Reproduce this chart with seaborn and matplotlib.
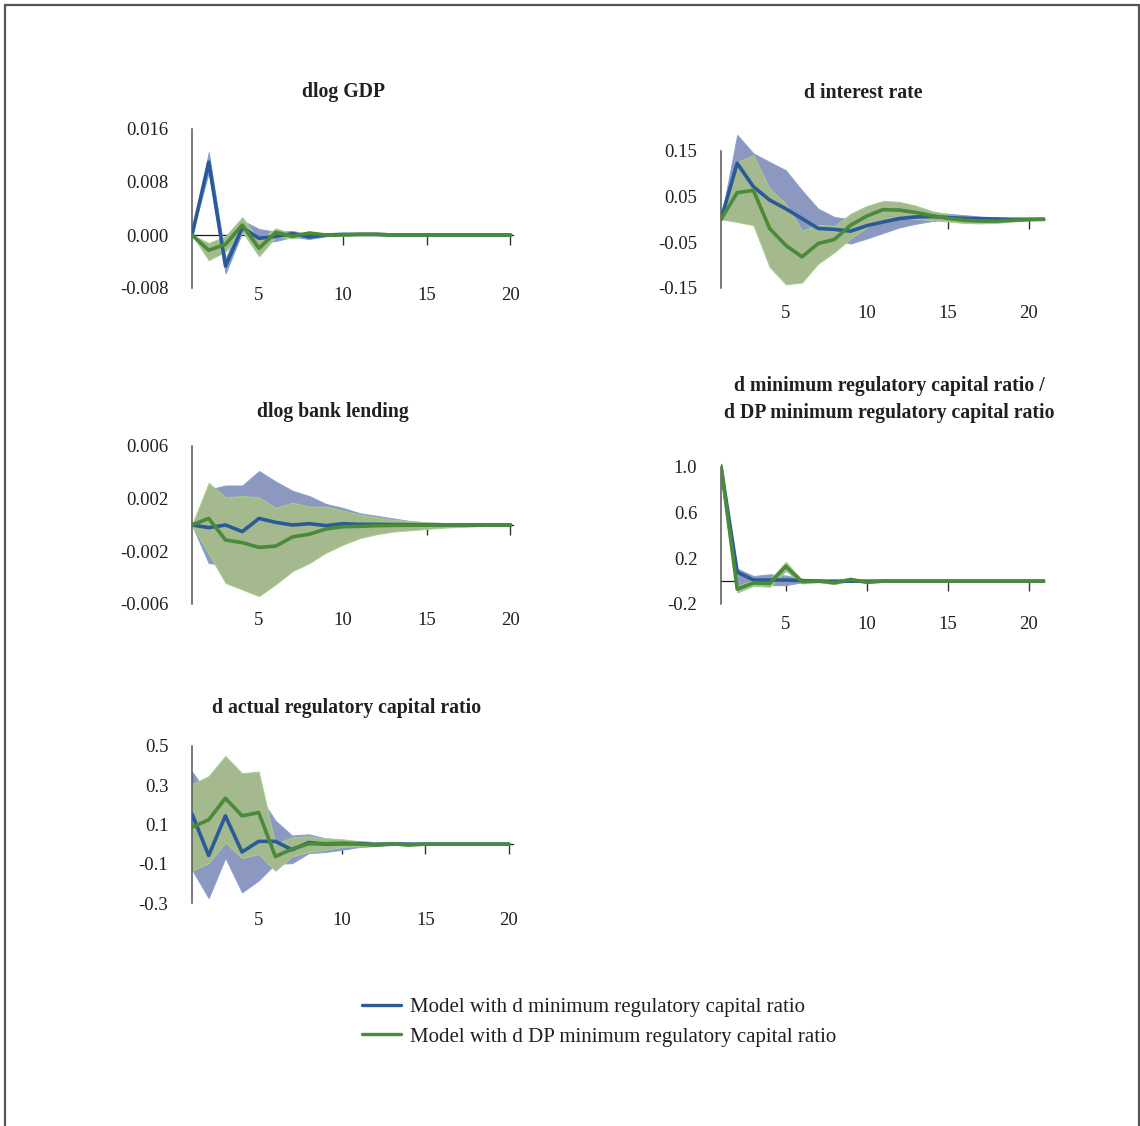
import matplotlib
matplotlib.use("Agg")
import matplotlib.pyplot as plt
from matplotlib.lines import Line2D
import numpy as np
import seaborn as sns

# horizons
t_left = np.arange(1, 21)
t_right = np.arange(1, 22)

# dlog GDP
gdp_blue = [0, 0.011, -0.0047, 0.0011, -0.0005, -0.0002, 0.0002, -0.0003, 0, 0.0001,
            0.0001, 0.0001, 0, 0, 0, 0, 0, 0, 0, 0]
gdp_blue_lo = [0, 0.0095, -0.0058, 0.0004, -0.0012, -0.0009, -0.0003, -0.0006, -0.0002, 0,
               0, 0, -0.0001, 0, 0, 0, 0, 0, 0, 0]
gdp_blue_hi = [0, 0.0125, -0.0035, 0.0022, 0.0009, 0.0005, 0.0006, 0.0001, 0.0002, 0.0002,
               0.0002, 0.0002, 0.0001, 0.0001, 0, 0, 0, 0, 0, 0]
gdp_green = [0, -0.0023, -0.0014, 0.0015, -0.002, 0.0004, -0.0002, 0.0003, 0, 0,
             0.0001, 0.0001, 0, 0, 0, 0, 0, 0, 0, 0]
gdp_green_lo = [0, -0.0038, -0.0025, 0.0005, -0.0032, -0.0003, -0.0005, 0, -0.0001, -0.0001,
                0, 0, -0.0001, 0, 0, 0, 0, 0, 0, 0]
gdp_green_hi = [0, -0.0012, -0.0002, 0.0027, -0.0008, 0.001, 0.0002, 0.0005, 0.0001, 0.0001,
                0.0002, 0.0002, 0.0001, 0, 0, 0, 0, 0, 0, 0]

# d interest rate
ir_blue = [0, 0.122, 0.071, 0.042, 0.023, 0.0015, -0.020, -0.022, -0.026, -0.014, -0.006,
           0.0015, 0.005, 0.006, 0.004, 0.002, 0.001, 0.0005, 0, 0, 0]
ir_blue_lo = [0, 0.04, 0.01, 0.0, -0.01, -0.028, -0.03, -0.045, -0.053, -0.042, -0.03,
              -0.018, -0.01, -0.004, -0.001, -0.001, -0.001, -0.001, 0, 0, 0]
ir_blue_hi = [0, 0.184, 0.144, 0.125, 0.107, 0.063, 0.023, 0.005, 0.0, 0.008, 0.015,
              0.018, 0.017, 0.016, 0.012, 0.009, 0.006, 0.004, 0.002, 0.001, 0]
ir_green = [0, 0.058, 0.063, -0.020, -0.057, -0.082, -0.053, -0.044, -0.013, 0.007, 0.021,
            0.020, 0.015, 0.008, 0.002, -0.002, -0.004, -0.004, -0.002, -0.001, 0]
ir_green_lo = [0, -0.006, -0.013, -0.104, -0.142, -0.138, -0.097, -0.072, -0.042, -0.017, 0.002,
               0.003, 0.001, -0.002, -0.005, -0.008, -0.009, -0.008, -0.005, -0.002, 0]
ir_green_hi = [0, 0.125, 0.14, 0.067, 0.034, -0.025, -0.012, -0.015, 0.012, 0.029, 0.040,
               0.038, 0.030, 0.018, 0.010, 0.005, 0.002, 0.001, 0, 0, 0]

# dlog bank lending
bl_blue = [0, -0.0002, 0, -0.0005, 0.0005, 0.0002, 0, 0.0001, -0.00005, 0.0001,
           0.00005, 0.00005, 0.00003, 0.00002, 0.00001, 0, 0, 0, 0, 0]
bl_blue_lo = [0, -0.0029, -0.003, -0.0027, -0.0024, -0.002, -0.0016, -0.0013, -0.001, -0.0008,
              -0.0006, -0.0005, -0.0004, -0.0003, -0.0002, -0.00015, -0.0001, -0.00005, -0.00003, 0]
bl_blue_hi = [0, 0.0027, 0.003, 0.003, 0.0041, 0.0033, 0.0026, 0.0022, 0.0016, 0.0013,
              0.0009, 0.0007, 0.0005, 0.0003, 0.0002, 0.00015, 0.0001, 0.00005, 0.00003, 0]
bl_green = [0, 0.0005, -0.00114, -0.00134, -0.0017, -0.0016, -0.0009, -0.0007, -0.0003, -0.00013,
            -0.0001, -0.00005, -0.00003, -0.00002, -0.00001, 0, 0, 0, 0, 0]
bl_green_lo = [0, -0.0022, -0.0044, -0.0049, -0.0054, -0.0045, -0.0035, -0.0029, -0.0021, -0.0015,
               -0.001, -0.0007, -0.0005, -0.0004, -0.0003, -0.0002, -0.00015, -0.0001, -0.00005, 0]
bl_green_hi = [0, 0.0032, 0.0021, 0.0022, 0.0021, 0.0013, 0.0017, 0.0014, 0.0014, 0.0011,
               0.0008, 0.0006, 0.0004, 0.0003, 0.0002, 0.00015, 0.0001, 0.00005, 0.00003, 0]

# d minimum regulatory capital ratio
mr_blue = [1.0, 0.08, 0.01, 0.01, 0.01, 0.005, 0, 0, 0, 0, 0,
           0, 0, 0, 0, 0, 0, 0, 0, 0, 0]
mr_blue_lo = [0.99, -0.05, -0.02, -0.035, -0.035, -0.01, -0.005, -0.003, -0.002, -0.001, 0,
              0, 0, 0, 0, 0, 0, 0, 0, 0, 0]
mr_blue_hi = [1.01, 0.11, 0.045, 0.06, 0.05, 0.02, 0.01, 0.005, 0.003, 0.002, 0,
              0, 0, 0, 0, 0, 0, 0, 0, 0, 0]
mr_green = [1.01, -0.07, -0.015, -0.02, 0.13, -0.005, 0.003, -0.015, 0.015, -0.01, 0,
            0, 0, 0, 0, 0, 0, 0, 0, 0, 0]
mr_green_lo = [0.98, -0.1, -0.04, -0.05, 0.09, -0.02, -0.01, -0.025, 0, -0.015, -0.005,
               -0.003, -0.002, -0.001, 0, 0, 0, 0, 0, 0, 0]
mr_green_hi = [1.03, -0.04, 0.01, 0.01, 0.17, 0.01, 0.015, 0, 0.03, 0, 0.005,
               0.003, 0.002, 0.001, 0, 0, 0, 0, 0, 0, 0]

# d actual regulatory capital ratio
ac_blue = [0.154, -0.058, 0.144, -0.04, 0.014, 0.014, -0.029, 0.008, 0, 0.002,
           0.003, -0.002, 0.001, 0, 0, 0, 0, 0, 0, 0]
ac_blue_lo = [-0.13, -0.275, -0.07, -0.246, -0.185, -0.10, -0.097, -0.046, -0.04, -0.029,
              -0.015, -0.01, -0.005, -0.003, -0.002, -0.001, 0, 0, 0, 0]
ac_blue_hi = [0.37, 0.25, 0.35, 0.28, 0.25, 0.12, 0.044, 0.05, 0.03, 0.02,
              0.015, 0.01, 0.005, 0.003, 0.002, 0.001, 0, 0, 0, 0]
ac_green = [0.086, 0.124, 0.234, 0.144, 0.161, -0.063, -0.025, 0.002, 0.002, 0.005,
            0, -0.005, 0.002, -0.005, 0, 0, 0, 0, 0, 0]
ac_green_lo = [-0.136, -0.097, 0.008, -0.071, -0.051, -0.136, -0.063, -0.04, -0.03, -0.015,
               -0.01, -0.008, -0.004, -0.006, -0.002, -0.001, 0, 0, 0, 0]
ac_green_hi = [0.305, 0.347, 0.449, 0.361, 0.37, 0.0, 0.035, 0.04, 0.03, 0.025,
               0.015, 0.01, 0.006, 0.003, 0.002, 0.001, 0, 0, 0, 0]

BLUE_LINE = "#2b5b97"
BLUE_FILL = "#8c98c0"
BLUE_EDGE = "#86a0d2"
GREEN_LINE = "#4a8a3b"
GREEN_FILL = "#a4b98e"
GREEN_EDGE = "#a2d08e"
TXT = "#231f20"

sns.set_theme(style="white")
plt.rcParams["font.family"] = ["Liberation Serif", "DejaVu Serif"]
plt.rcParams["text.color"] = TXT
plt.rcParams["xtick.color"] = TXT
plt.rcParams["ytick.color"] = TXT

W, H = 1140, 1126
fig = plt.figure(figsize=(W / 100, H / 100), dpi=100)


def px_axes(left, right, top, bottom):
    return fig.add_axes([left / W, 1 - bottom / H, (right - left) / W, (bottom - top) / H])


# (title, centre x, centre y, t, data, y-limits, ticks, labels, axes box, xlim max, xlabel pad)
panels = [
    ("dlog GDP", 343, 92.5, t_left,
     (gdp_blue, gdp_blue_lo, gdp_blue_hi, gdp_green, gdp_green_lo, gdp_green_hi),
     (-0.008, 0.016), [0.016, 0.008, 0.0, -0.008], ["0.016", "0.008", "0.000", "-0.008"],
     (192, 513, 129, 288), 20.15, 0),
    ("d interest rate", 863, 92.5, t_right,
     (ir_blue, ir_blue_lo, ir_blue_hi, ir_green, ir_green_lo, ir_green_hi),
     (-0.15, 0.2), [0.15, 0.05, -0.05, -0.15], ["0.15", "0.05", "-0.05", "-0.15"],
     (721, 1045, 127.6, 288), 21, 13),
    ("dlog bank lending", 333, 412.5, t_left,
     (bl_blue, bl_blue_lo, bl_blue_hi, bl_green, bl_green_lo, bl_green_hi),
     (-0.006, 0.006), [0.006, 0.002, -0.002, -0.006], ["0.006", "0.002", "-0.002", "-0.006"],
     (192, 513, 446, 604), 20.15, 6.5),
    ("d minimum regulatory capital ratio /\nd DP minimum regulatory capital ratio", 889, 399.5, t_right,
     (mr_blue, mr_blue_lo, mr_blue_hi, mr_green, mr_green_lo, mr_green_hi),
     (-0.2, 1.04), [1.0, 0.6, 0.2, -0.2], ["1.0", "0.6", "0.2", "-0.2"],
     (721, 1045, 462.4, 604), 21, 9.4),
    ("d actual regulatory capital ratio", 347, 708.5, t_left,
     (ac_blue, ac_blue_lo, ac_blue_hi, ac_green, ac_green_lo, ac_green_hi),
     (-0.3, 0.5), [0.5, 0.3, 0.1, -0.1, -0.3], ["0.5", "0.3", "0.1", "-0.1", "-0.3"],
     (192, 513, 746, 903), 20.25, 7),
]

for title, tx, ty, t, data, ylim, yt, ylab, box, xmax, xpad in panels:
    b, b_lo, b_hi, g, g_lo, g_hi = data
    ax = px_axes(*box)
    ax.fill_between(t, b_lo, b_hi, facecolor=BLUE_FILL, edgecolor=BLUE_EDGE, lw=0.7, zorder=1)
    ax.fill_between(t, g_lo, g_hi, facecolor=GREEN_FILL, edgecolor=GREEN_EDGE, lw=0.7, zorder=1.1)
    sns.lineplot(x=t, y=b, ax=ax, color=BLUE_LINE, lw=2.6, zorder=3)
    sns.lineplot(x=t, y=g, ax=ax, color=GREEN_LINE, lw=2.6, zorder=3.1)

    ax.set_xlim(1, xmax)
    ax.set_ylim(*ylim)
    ax.set_yticks(yt, labels=ylab)
    ax.set_xticks([5, 10, 15, 20], labels=["5", "10", "15", "20"])
    ax.set_facecolor("none")

    for s in ["right", "bottom"]:
        ax.spines[s].set_visible(False)
    ax.spines["left"].set_bounds(min(yt), max(yt))
    ax.spines["left"].set_color("#555555")
    ax.spines["left"].set_linewidth(1.1)
    ax.spines["top"].set_position(("data", 0))
    ax.spines["top"].set_color("#1a1a1a")
    ax.spines["top"].set_linewidth(0.9)
    ax.spines["top"].set_zorder(0.5)
    ax.set_axisbelow(True)

    ax.tick_params(axis="y", direction="out", length=7, width=1.1, color="#555555",
                   pad=10, labelsize=13.5)
    ax.tick_params(axis="x", bottom=False, top=True, labelbottom=True, labeltop=False,
                   direction="in", length=7, width=1.0, color="#333333", pad=xpad - 0.5,
                   labelsize=13.5)

    fig.text(tx / W, 1 - ty / H, title, ha="center", va="center", fontsize=14.2,
             fontweight="bold", linespacing=1.48)

handles = [Line2D([], [], color=BLUE_LINE, lw=2.4), Line2D([], [], color=GREEN_LINE, lw=2.4)]
fig.legend(handles, ["Model with d minimum regulatory capital ratio",
                     "Model with d DP minimum regulatory capital ratio"],
           loc="center left", bbox_to_anchor=(362 / W, 1 - 1022 / H), frameon=False,
           fontsize=15, handlelength=1.85, handletextpad=0.45, labelspacing=0.48,
           borderpad=0, borderaxespad=0)

# page frame
frame = dict(color="#555555", lw=1.6, transform=fig.transFigure)
fig.add_artist(Line2D([5 / W, 5 / W], [0, 1 - 5 / H], **frame))
fig.add_artist(Line2D([5 / W, 1139 / W], [1 - 5 / H, 1 - 5 / H], **frame))
fig.add_artist(Line2D([1139 / W, 1139 / W], [0, 1 - 5 / H], **frame))

fig.savefig("out.png", dpi=100)
